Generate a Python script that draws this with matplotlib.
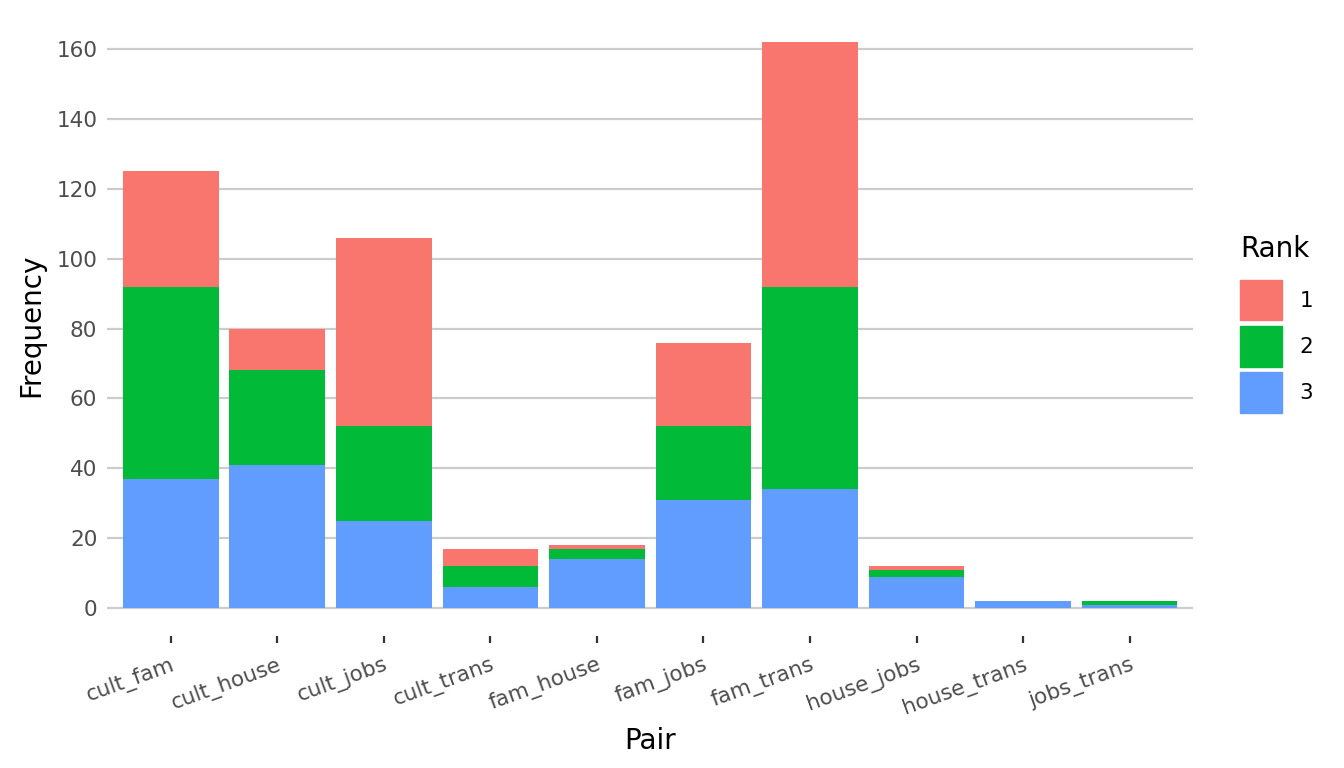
import numpy as np
import matplotlib.pyplot as plt
from matplotlib.patches import Patch

pairs = ['cult_fam', 'cult_house', 'cult_jobs', 'cult_trans', 'fam_house',
         'fam_jobs', 'fam_trans', 'house_jobs', 'house_trans', 'jobs_trans']
rank3 = [37, 41, 25, 6, 14, 31, 34, 9, 2, 1]
rank2 = [55, 27, 27, 6, 3, 21, 58, 2, 0, 1]
rank1 = [33, 12, 54, 5, 1, 24, 70, 1, 0, 0]
yticks = [0, 20, 40, 60, 80, 100, 120, 140, 160]

col1, col2, col3 = '#F8766D', '#00BA38', '#619CFF'

fig = plt.figure(figsize=(13.44, 7.68), dpi=100)
ax = fig.add_axes([0.0796, 0.1715, 0.8084, 0.8105])

x = np.arange(len(pairs))
r3 = np.array(rank3)
r2 = np.array(rank2)
r1 = np.array(rank1)
ax.bar(x, r3, width=0.9, color=col3, zorder=2)
ax.bar(x, r2, width=0.9, bottom=r3, color=col2, zorder=2)
ax.bar(x, r1, width=0.9, bottom=r3 + r2, color=col1, zorder=2)

ax.set_xlim(-0.6, len(pairs) - 0.4)
ax.set_ylim(-8.1, 170.1)
ax.set_yticks(yticks)
ax.set_xticks(x)
ax.set_xticklabels(pairs, rotation=20, ha='right', rotation_mode='anchor')
ax.grid(axis='y', color='#cccccc', linewidth=1.6, zorder=0)
for s in ax.spines.values():
    s.set_visible(False)
ax.tick_params(axis='y', length=0, labelsize=15.5, labelcolor='#4d4d4d', pad=7)
ax.tick_params(axis='x', length=5, width=1.6, color='#333333', labelsize=15.5,
               labelcolor='#4d4d4d', pad=8)
ax.set_xlabel('Pair', fontsize=20, labelpad=6)
ax.set_ylabel('Frequency', fontsize=20, labelpad=8)

handles = [Patch(color=col1, label='1'), Patch(color=col2, label='2'),
           Patch(color=col3, label='3')]
leg = fig.legend(handles=handles, title='Rank', loc='upper left',
                 bbox_to_anchor=(0.913, 0.711), frameon=False, fontsize=15.5,
                 title_fontsize=20, handlelength=1.95, handleheight=2.55,
                 labelspacing=0.25, handletextpad=0.8, alignment='left',
                 borderaxespad=0.2)
leg._legend_box.sep = 12

fig.savefig('out.png', dpi=100)
